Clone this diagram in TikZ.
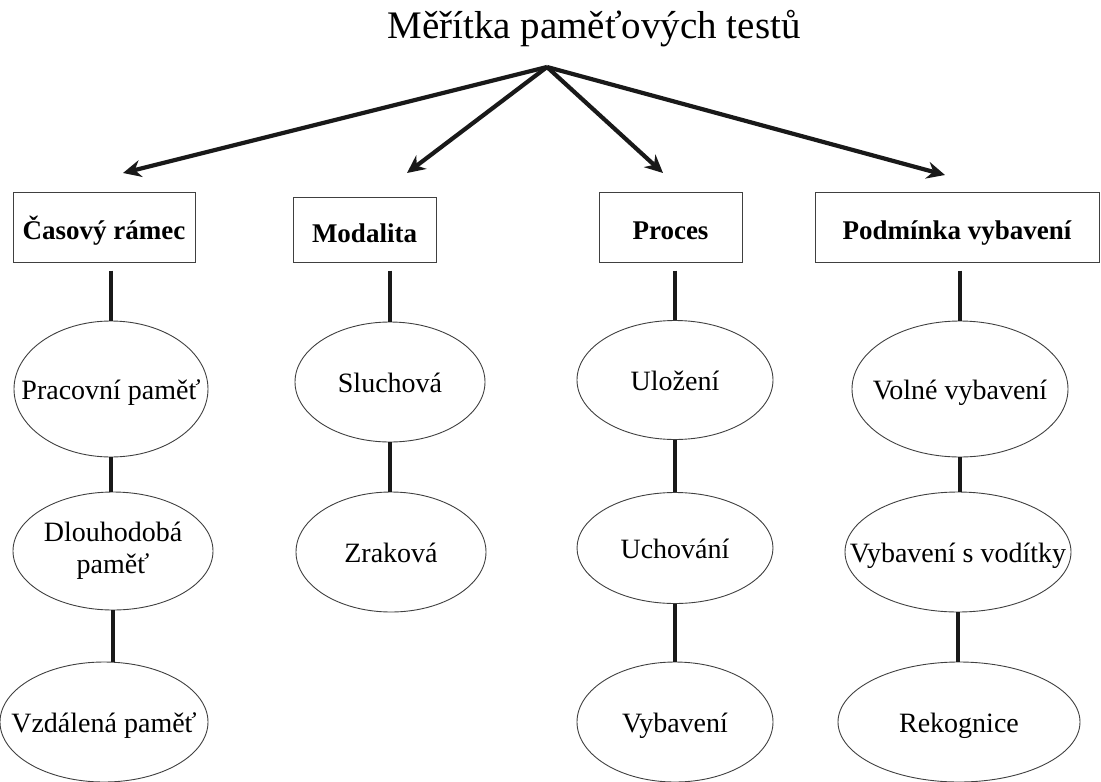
\documentclass[tikz,border=0pt]{standalone}
\usepackage{fontspec}
\setmainfont{Liberation Serif}
\usetikzlibrary{arrows.meta,shapes.geometric}

\begin{document}
\begin{tikzpicture}[x=1pt,y=-1pt,
        head/.style={draw=black!75,line width=1pt,minimum height=70pt,inner sep=0pt,
            text height=25pt,text depth=0pt,font=\fontsize{27}{30}\selectfont\bfseries},
        item/.style={draw=black!75,line width=0.9pt,ellipse,inner xsep=-45pt,inner ysep=0pt,
            align=center,font=\fontsize{28}{32}\selectfont},
        one/.style={text height=20pt,text depth=0pt},
        arr/.style={-{Stealth[length=18pt,width=17pt]},line width=4.2pt,black!90},
        link/.style={line width=3.6pt,black!90}]
        \useasboundingbox (0,0) rectangle (1101,782);

        \node[anchor=base west,font=\fontsize{39}{43}\selectfont] (title) at (384,38) {Měřítka paměťových testů};
        \coordinate (top) at (547,67);

        % hlavni kategorie
        \node[head,minimum width=182pt] (cas) at (104,227) {Časový rámec};
        \node[head,minimum width=143pt,minimum height=65pt] (mod) at (364.5,229.5) {Modalita};
        \node[head,minimum width=143pt] (proc) at (670.5,227) {Proces};
        \node[head,minimum width=284pt] (podm) at (957,227) {Podmínka vybavení};

        \coordinate (tcas) at (123,173);
        \coordinate (tmod) at (407,173);
        \coordinate (tproc) at (663,173);
        \coordinate (tpodm) at (945,175);
        \draw[arr](top)--(tcas);
        \draw[arr](top)--(tmod);
        \draw[arr](top)--(tproc);
        \draw[arr](top)--(tpodm);

        % casovy ramec
        \node[item,one,minimum width=194pt,minimum height=136pt] (prac) at (111,389) {Pracovní paměť};
        \node[item,minimum width=200pt,minimum height=118pt] (dlouh) at (113,551) {Dlouhodobá\\paměť};
        \node[item,one,minimum width=208pt,minimum height=120pt] (vzdal) at (104,722) {Vzdálená paměť};

        % modalita
        \node[item,one,minimum width=190pt,minimum height=120pt] (sluch) at (390,382) {Sluchová};
        \node[item,one,minimum width=190pt,minimum height=120pt] (zrak) at (391,552) {Zraková};

        % proces
        \node[item,one,minimum width=196pt,minimum height=119pt] (uloz) at (675,380) {Uložení};
        \node[item,one,minimum width=196pt,minimum height=111pt] (uchov) at (675,548) {Uchování};
        \node[item,one,minimum width=196pt,minimum height=120pt] (vybav) at (675,722) {Vybavení};

        % podminka vybaveni
        \node[item,one,minimum width=216pt,minimum height=136pt] (volne) at (960,389) {Volné vybavení};
        \node[item,one,minimum width=226pt,minimum height=120pt] (vodit) at (958,552) {Vybavení s vodítky};
        \node[item,one,minimum width=242pt,minimum height=120pt] (rekog) at (959,722) {Rekognice};

        \draw[link,shorten <=8pt](prac.north|-cas.south)--(prac.north);
        \draw[link](prac.south)--(prac.south|-dlouh.north);
        \draw[link](dlouh.south)--(dlouh.south|-vzdal.north);

        \draw[link,shorten <=8pt](sluch.north|-mod.south)--(sluch.north);
        \draw[link](sluch.south)--(sluch.south|-zrak.north);

        \draw[link,shorten <=8pt](uloz.north|-proc.south)--(uloz.north);
        \draw[link](uloz.south)--(uloz.south|-uchov.north);
        \draw[link](uchov.south)--(uchov.south|-vybav.north);

        \draw[link,shorten <=8pt](volne.north|-podm.south)--(volne.north);
        \draw[link](volne.south)--(volne.south|-vodit.north);
        \draw[link](vodit.south)--(vodit.south|-rekog.north);
    \end{tikzpicture}
\end{document}
